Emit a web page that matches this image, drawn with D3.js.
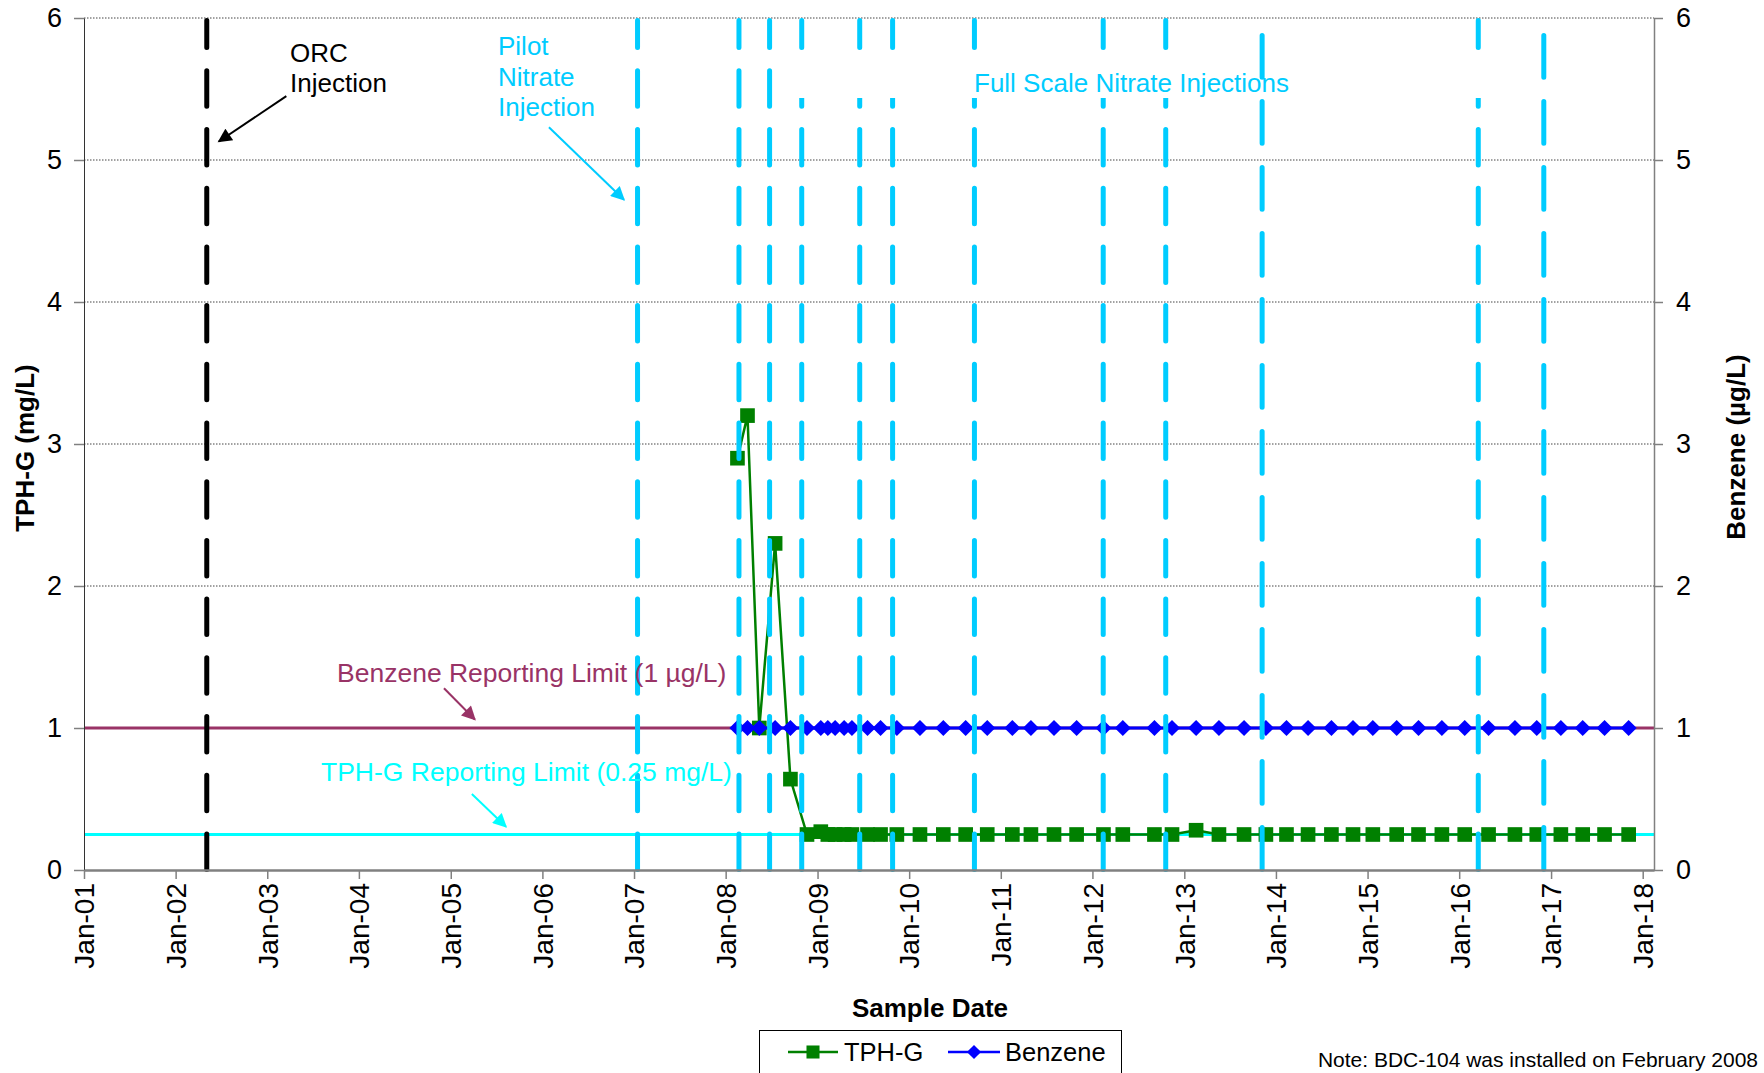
<!DOCTYPE html>
<html><head><meta charset="utf-8">
<script src="https://cdn.jsdelivr.net/npm/d3@7"></script>
<style>
body{margin:0;background:#fff}
text{font-family:"Liberation Sans",Arial,sans-serif}
</style></head>
<body><svg id="c" width="1764" height="1073"></svg>
<script>
// ---------------- DATA ----------------
const sampleDates = [
 "2008-02-17","2008-03-28","2008-05-14","2008-07-16","2008-09-15","2008-11-20",
 "2009-01-14","2009-02-11","2009-03-12","2009-04-17","2009-05-18","2009-07-19",
 "2009-09-09","2009-11-13","2010-02-13","2010-05-17","2010-08-14","2010-11-08",
 "2011-02-16","2011-05-01","2011-08-01","2011-10-30","2012-02-14","2012-05-01",
 "2012-09-04","2012-11-13","2013-02-17","2013-05-19","2013-08-27","2013-11-22",
 "2014-02-12","2014-05-09","2014-08-10","2014-11-04","2015-01-22","2015-04-27",
 "2015-07-23","2015-10-24","2016-01-23","2016-04-27","2016-08-10","2016-11-05",
 "2017-02-09","2017-05-07","2017-08-02","2017-11-06"];
const tphValues = [
 2.9,3.2,1.0,2.3,0.64,0.25,
 0.27,0.25,0.25,0.25,0.25,0.25,
 0.25,0.25,0.25,0.25,0.25,0.25,
 0.25,0.25,0.25,0.25,0.25,0.25,
 0.25,0.25,0.28,0.25,0.25,0.25,
 0.25,0.25,0.25,0.25,0.25,0.25,
 0.25,0.25,0.25,0.25,0.25,0.25,
 0.25,0.25,0.25,0.25];
const benzeneValues = [
 1,1,1,1,1,1, 1,1,1,1,1,1, 1,1,1,1,1,1, 1,1,1,1,1,1,
 1,1,1,1,1,1, 1,1,1,1,1,1, 1,1,1,1,1,1, 1,1,1,1];
const yTickValues = [0,1,2,3,4,5,6];
const xDomain = ["2001-01-01","2018-02-15"];
const orcDate = "2002-05-05";
const pilotDate = "2007-01-15";
const fullScaleDatesA = ["2008-02-23","2008-06-24","2008-10-30","2009-06-18","2009-10-27",
                         "2010-09-18","2012-02-13","2012-10-19","2016-03-17"];
const fullScaleDatesB = ["2013-11-07","2016-12-03"];
const tphLimit = 0.25;     // mg/L
const benzeneLimit = 1;    // µg/L
// annotation arrows [fromDate, fromValue, toDate, toValue]
const orcArrow = ["2003-03-18",5.45,"2002-06-22",5.13];
const pilotArrow = ["2006-01-27",5.23,"2006-11-22",4.72];
const benzArrow = ["2004-12-05",1.28,"2005-04-07",1.06];
const tphArrow = ["2005-03-26",0.535,"2005-08-09",0.305];

// ---------------- CHART ----------------
const parse = d3.timeParse("%Y-%m-%d");
const svg = d3.select("#c");
const L=84,R=1654,T=18,B=870;
const x = d3.scaleTime().domain(xDomain.map(parse)).range([L,R]);
const yL = d3.scaleLinear().domain([0,6]).range([B,T]);
const yR = d3.scaleLinear().domain([0,6]).range([B,T]);
const FS = 26;

const defs = svg.append("defs");
function arrowMarker(id,color){
  defs.append("marker").attr("id",id).attr("viewBox","0 0 10 10")
    .attr("refX",9).attr("refY",5).attr("markerWidth",8).attr("markerHeight",7)
    .attr("markerUnits","strokeWidth").attr("orient","auto")
    .append("path").attr("d","M0,0 L10,5 L0,10 z").attr("fill",color);
}
arrowMarker("aBlack","#000");
arrowMarker("aSky","#00CCFF");
arrowMarker("aPlum","#993366");
arrowMarker("aCyan","#00FFFF");

// gridlines
svg.append("g").selectAll("line").data(yTickValues.filter(v=>v>0)).join("line")
  .attr("x1",L).attr("x2",R).attr("y1",d=>yL(d)).attr("y2",d=>yL(d))
  .attr("stroke","#444").attr("stroke-width",1).attr("stroke-dasharray","1.5,1.5");

// reporting limit lines
svg.append("line").attr("x1",L).attr("x2",R).attr("y1",yR(benzeneLimit)).attr("y2",yR(benzeneLimit))
  .attr("stroke","#993366").attr("stroke-width",3);
svg.append("line").attr("x1",L).attr("x2",R).attr("y1",yL(tphLimit)).attr("y2",yL(tphLimit))
  .attr("stroke","#00FFFF").attr("stroke-width",3);

// series
const dts = sampleDates.map(parse);
const tph = dts.map((d,i)=>({d, v:tphValues[i]}));
const benz = dts.map((d,i)=>({d, v:benzeneValues[i]}));
svg.append("path").datum(tph).attr("fill","none").attr("stroke","#008000").attr("stroke-width",2.5)
  .attr("d", d3.line().x(p=>x(p.d)).y(p=>yL(p.v)));
svg.append("g").selectAll("path").data(tph).join("path")
  .attr("d", d3.symbol().type(d3.symbolSquare).size(215))
  .attr("transform", p=>`translate(${x(p.d)},${yL(p.v)})`).attr("fill","#008000");
svg.append("path").datum(benz).attr("fill","none").attr("stroke","#0000FF").attr("stroke-width",3)
  .attr("d", d3.line().x(p=>x(p.d)).y(p=>yR(p.v)));
svg.append("g").selectAll("path").data(benz).join("path")
  .attr("d", d3.symbol().type(d3.symbolSquare).size(130))
  .attr("transform", p=>`translate(${x(p.d)},${yR(p.v)}) rotate(45)`).attr("fill","#0000FF");

// vertical injection lines
const lw = 5;
function vline(dateStr,color,start,dash,gap){
  const period = dash+gap;
  let off = (T - start) % period; if(off<0) off+=period;
  svg.append("line").attr("x1",x(parse(dateStr))).attr("x2",x(parse(dateStr)))
    .attr("y1",T+lw/2).attr("y2",B)
    .attr("stroke",color).attr("stroke-width",lw).attr("stroke-linecap","round")
    .attr("stroke-dasharray",`${dash-lw},${gap+lw}`)
    .attr("stroke-dashoffset", off);
}
vline(orcDate,"#000",9.6,40.5,18.2);
vline(pilotDate,"#00CCFF",9.6,40.5,18.2);
fullScaleDatesA.forEach(d=>vline(d,"#00CCFF",9.6,40.5,18.2));
// label box (white) covering part of lines
svg.append("rect").attr("x",790).attr("y",61).attr("width",710).attr("height",37).attr("fill","#fff");
fullScaleDatesB.forEach(d=>vline(d,"#00CCFF",33,46.7,19.3));

// axes
const fmtInt = d3.format("d");
const gL = svg.append("g").attr("transform",`translate(${L},0)`)
  .call(d3.axisLeft(yL).tickValues(yTickValues).tickFormat(fmtInt).tickSize(10).tickSizeOuter(0).tickPadding(12));
const gR = svg.append("g").attr("transform",`translate(${R},0)`)
  .call(d3.axisRight(yR).tickValues(yTickValues).tickFormat(fmtInt).tickSize(9).tickSizeOuter(0).tickPadding(13));
const gX = svg.append("g").attr("transform",`translate(0,${B})`)
  .call(d3.axisBottom(x).ticks(d3.timeYear.every(1)).tickFormat(d3.timeFormat("%b-%y"))
        .tickSize(9).tickSizeOuter(0));
[gL,gR,gX].forEach(g=>{
  g.selectAll("text").attr("font-size",27).attr("fill","#000")
   .style("font-family",'"Liberation Sans",Arial,sans-serif');
  g.selectAll("line").attr("stroke","#808080").attr("stroke-width",1.5);
  g.select(".domain").attr("stroke","#808080").attr("stroke-width",1.5);
});
gL.select(".domain").attr("stroke","#333").attr("stroke-width",1);
gX.select(".domain").attr("stroke-width",2.5);
gX.selectAll("text").attr("transform","rotate(-90)").attr("x",-13).attr("y",0)
  .attr("dy","0.35em").style("text-anchor","end").attr("font-size",28);

// axis titles
svg.append("text").attr("x",930).attr("y",1017).attr("text-anchor","middle")
  .attr("font-size",FS).attr("font-weight","bold").text("Sample Date");
svg.append("text").attr("transform","translate(34,448) rotate(-90)").attr("text-anchor","middle")
  .attr("font-size",FS).attr("font-weight","bold").text("TPH-G (mg/L)");
svg.append("text").attr("transform","translate(1745,447) rotate(-90)").attr("text-anchor","middle")
  .attr("font-size",FS).attr("font-weight","bold").text("Benzene (µg/L)");

// annotations
function arrow(a,color,marker){
  svg.append("line").attr("x1",x(parse(a[0]))).attr("y1",yL(a[1]))
    .attr("x2",x(parse(a[2]))).attr("y2",yL(a[3]))
    .attr("stroke",color).attr("stroke-width",2).attr("marker-end",`url(#${marker})`);
}
function label(lines,xp,y0,dy,color,fs){
  const t = svg.append("text").attr("font-size",fs||FS).attr("fill",color);
  lines.forEach((s,i)=>t.append("tspan").attr("x",xp).attr("y",y0+i*dy).text(s));
}
label(["ORC","Injection"],290,62,30,"#000");
arrow(orcArrow,"#000","aBlack");
label(["Pilot","Nitrate","Injection"],498,55,30.5,"#00CCFF");
arrow(pilotArrow,"#00CCFF","aSky");
label(["Full Scale Nitrate Injections"],974,92,0,"#00CCFF");
label(["Benzene Reporting Limit (1 µg/L)"],337,682,0,"#993366",26.5);
arrow(benzArrow,"#993366","aPlum");
label(["TPH-G Reporting Limit (0.25 mg/L)"],321,781,0,"#00FFFF",26.5);
arrow(tphArrow,"#00FFFF","aCyan");

// legend
const lg = svg.append("g");
lg.append("rect").attr("x",759.5).attr("y",1030.5).attr("width",362).attr("height",60)
  .attr("fill","#fff").attr("stroke","#000").attr("stroke-width",1);
lg.append("line").attr("x1",788).attr("x2",838).attr("y1",1052).attr("y2",1052).attr("stroke","#008000").attr("stroke-width",2.5);
lg.append("path").attr("d",d3.symbol().type(d3.symbolSquare).size(170)).attr("transform","translate(813,1052)").attr("fill","#008000");
lg.append("text").attr("x",844).attr("y",1061).attr("font-size",25.5).text("TPH-G");
lg.append("line").attr("x1",948).attr("x2",1000).attr("y1",1052).attr("y2",1052).attr("stroke","#0000FF").attr("stroke-width",2.5);
lg.append("path").attr("d",d3.symbol().type(d3.symbolSquare).size(100)).attr("transform","translate(974,1052) rotate(45)").attr("fill","#0000FF");
lg.append("text").attr("x",1005).attr("y",1061).attr("font-size",25.5).text("Benzene");

svg.append("text").attr("x",1758).attr("y",1067).attr("text-anchor","end").attr("font-size",21)
  .text("Note: BDC-104 was installed on February 2008");
</script></body></html>
